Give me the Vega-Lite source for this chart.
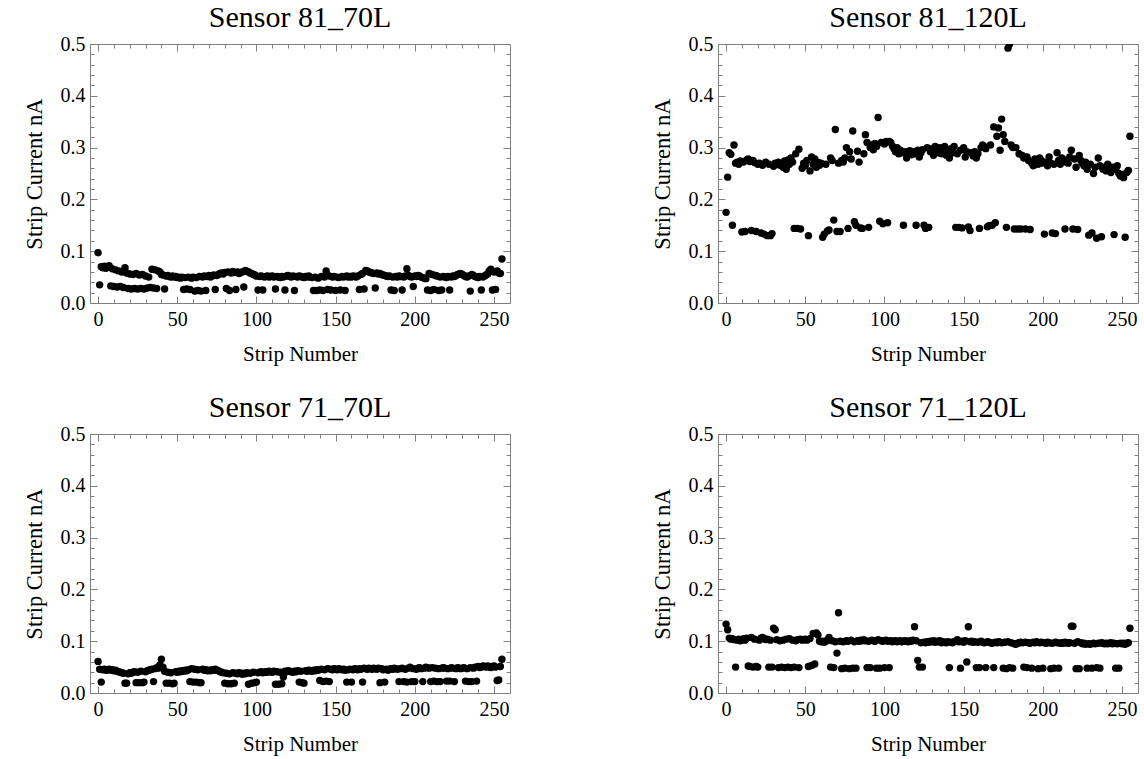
{
"$schema": "https://vega.github.io/schema/vega-lite/v6.json",
"background": "white",
"padding": {"left": 22, "top": 2, "right": 5, "bottom": 5},
"config": {
  "font": "Liberation Serif",
  "view": {"stroke": "#808080", "strokeWidth": 1},
  "axis": {"domain": false, "grid": false, "tickColor": "#808080", "tickWidth": 1, "labelFont": "Liberation Serif", "labelFontSize": 20, "labelColor": "black", "labelOverlap": false, "labelFlush": false, "titleFont": "Liberation Serif", "titleFontWeight": "normal", "titleColor": "black", "minExtent": 0, "labelBound": false},
  "axisX": {"titleFontSize": 21},
  "axisY": {"titleFontSize": 22.5},
  "title": {"font": "Liberation Serif", "fontSize": 30, "fontWeight": "normal", "color": "black", "frame": "group", "anchor": "middle", "offset": 1}
},
"columns": 2,
"spacing": {"row": 27, "column": 139},
"datasets": {
"a": [{"n":0,"v":0.097},{"n":1,"v":0.035},{"n":2,"v":0.070},{"n":3,"v":0.068},{"n":4,"v":0.071},{"n":5,"v":0.067},{"n":6,"v":0.069},{"n":7,"v":0.072},{"n":8,"v":0.033},{"n":9,"v":0.066},{"n":10,"v":0.032},{"n":11,"v":0.064},{"n":12,"v":0.031},{"n":13,"v":0.062},{"n":14,"v":0.032},{"n":15,"v":0.060},{"n":16,"v":0.030},{"n":17,"v":0.068},{"n":18,"v":0.058},{"n":19,"v":0.028},{"n":20,"v":0.056},{"n":21,"v":0.027},{"n":22,"v":0.055},{"n":23,"v":0.028},{"n":24,"v":0.057},{"n":25,"v":0.027},{"n":26,"v":0.054},{"n":27,"v":0.028},{"n":28,"v":0.055},{"n":29,"v":0.027},{"n":30,"v":0.052},{"n":31,"v":0.029},{"n":32,"v":0.050},{"n":33,"v":0.030},{"n":34,"v":0.065},{"n":35,"v":0.029},{"n":36,"v":0.064},{"n":37,"v":0.028},{"n":38,"v":0.062},{"n":39,"v":0.060},{"n":40,"v":0.055},{"n":41,"v":0.054},{"n":42,"v":0.027},{"n":43,"v":0.052},{"n":44,"v":0.053},{"n":45,"v":0.051},{"n":46,"v":0.050},{"n":47,"v":0.052},{"n":48,"v":0.050},{"n":49,"v":0.051},{"n":50,"v":0.049},{"n":51,"v":0.050},{"n":52,"v":0.048},{"n":53,"v":0.050},{"n":54,"v":0.026},{"n":55,"v":0.049},{"n":56,"v":0.027},{"n":57,"v":0.050},{"n":58,"v":0.026},{"n":59,"v":0.048},{"n":60,"v":0.050},{"n":61,"v":0.023},{"n":62,"v":0.049},{"n":63,"v":0.024},{"n":64,"v":0.051},{"n":65,"v":0.023},{"n":66,"v":0.050},{"n":67,"v":0.052},{"n":68,"v":0.024},{"n":69,"v":0.051},{"n":70,"v":0.053},{"n":71,"v":0.050},{"n":72,"v":0.052},{"n":73,"v":0.054},{"n":74,"v":0.026},{"n":75,"v":0.053},{"n":76,"v":0.055},{"n":77,"v":0.057},{"n":78,"v":0.058},{"n":79,"v":0.056},{"n":80,"v":0.059},{"n":81,"v":0.028},{"n":82,"v":0.060},{"n":83,"v":0.024},{"n":84,"v":0.058},{"n":85,"v":0.061},{"n":86,"v":0.059},{"n":87,"v":0.026},{"n":88,"v":0.060},{"n":89,"v":0.057},{"n":90,"v":0.059},{"n":91,"v":0.060},{"n":92,"v":0.031},{"n":93,"v":0.063},{"n":94,"v":0.061},{"n":95,"v":0.060},{"n":96,"v":0.058},{"n":97,"v":0.057},{"n":98,"v":0.055},{"n":99,"v":0.054},{"n":100,"v":0.052},{"n":101,"v":0.025},{"n":102,"v":0.051},{"n":103,"v":0.052},{"n":104,"v":0.025},{"n":105,"v":0.050},{"n":106,"v":0.051},{"n":107,"v":0.052},{"n":108,"v":0.050},{"n":109,"v":0.051},{"n":110,"v":0.052},{"n":111,"v":0.050},{"n":112,"v":0.027},{"n":113,"v":0.051},{"n":114,"v":0.050},{"n":115,"v":0.049},{"n":116,"v":0.051},{"n":117,"v":0.050},{"n":118,"v":0.025},{"n":119,"v":0.052},{"n":120,"v":0.053},{"n":121,"v":0.051},{"n":122,"v":0.050},{"n":123,"v":0.052},{"n":124,"v":0.024},{"n":125,"v":0.051},{"n":126,"v":0.050},{"n":127,"v":0.052},{"n":128,"v":0.051},{"n":129,"v":0.050},{"n":130,"v":0.049},{"n":131,"v":0.051},{"n":132,"v":0.050},{"n":133,"v":0.052},{"n":134,"v":0.050},{"n":135,"v":0.049},{"n":136,"v":0.024},{"n":137,"v":0.050},{"n":138,"v":0.024},{"n":139,"v":0.048},{"n":140,"v":0.025},{"n":141,"v":0.051},{"n":142,"v":0.024},{"n":143,"v":0.050},{"n":144,"v":0.062},{"n":145,"v":0.026},{"n":146,"v":0.052},{"n":147,"v":0.025},{"n":148,"v":0.050},{"n":149,"v":0.051},{"n":150,"v":0.024},{"n":151,"v":0.050},{"n":152,"v":0.049},{"n":153,"v":0.025},{"n":154,"v":0.051},{"n":155,"v":0.050},{"n":156,"v":0.024},{"n":157,"v":0.052},{"n":158,"v":0.050},{"n":159,"v":0.051},{"n":160,"v":0.050},{"n":161,"v":0.052},{"n":162,"v":0.051},{"n":163,"v":0.050},{"n":164,"v":0.052},{"n":165,"v":0.026},{"n":166,"v":0.055},{"n":167,"v":0.057},{"n":168,"v":0.027},{"n":169,"v":0.063},{"n":170,"v":0.062},{"n":171,"v":0.060},{"n":172,"v":0.059},{"n":173,"v":0.058},{"n":174,"v":0.057},{"n":175,"v":0.029},{"n":176,"v":0.058},{"n":177,"v":0.056},{"n":178,"v":0.057},{"n":179,"v":0.055},{"n":180,"v":0.054},{"n":181,"v":0.053},{"n":182,"v":0.052},{"n":183,"v":0.051},{"n":184,"v":0.052},{"n":185,"v":0.025},{"n":186,"v":0.050},{"n":187,"v":0.024},{"n":188,"v":0.051},{"n":189,"v":0.050},{"n":190,"v":0.052},{"n":191,"v":0.051},{"n":192,"v":0.025},{"n":193,"v":0.050},{"n":194,"v":0.052},{"n":195,"v":0.066},{"n":196,"v":0.053},{"n":197,"v":0.051},{"n":198,"v":0.050},{"n":199,"v":0.032},{"n":200,"v":0.052},{"n":201,"v":0.051},{"n":202,"v":0.053},{"n":203,"v":0.052},{"n":204,"v":0.050},{"n":205,"v":0.049},{"n":206,"v":0.048},{"n":207,"v":0.047},{"n":208,"v":0.025},{"n":209,"v":0.057},{"n":210,"v":0.024},{"n":211,"v":0.055},{"n":212,"v":0.026},{"n":213,"v":0.053},{"n":214,"v":0.052},{"n":215,"v":0.024},{"n":216,"v":0.050},{"n":217,"v":0.025},{"n":218,"v":0.051},{"n":219,"v":0.050},{"n":220,"v":0.049},{"n":221,"v":0.051},{"n":222,"v":0.025},{"n":223,"v":0.050},{"n":224,"v":0.052},{"n":225,"v":0.051},{"n":226,"v":0.053},{"n":227,"v":0.055},{"n":228,"v":0.056},{"n":229,"v":0.057},{"n":230,"v":0.055},{"n":231,"v":0.053},{"n":232,"v":0.051},{"n":233,"v":0.050},{"n":234,"v":0.052},{"n":235,"v":0.023},{"n":236,"v":0.055},{"n":237,"v":0.053},{"n":238,"v":0.051},{"n":239,"v":0.050},{"n":240,"v":0.049},{"n":241,"v":0.051},{"n":242,"v":0.025},{"n":243,"v":0.050},{"n":244,"v":0.052},{"n":245,"v":0.054},{"n":246,"v":0.056},{"n":247,"v":0.062},{"n":248,"v":0.065},{"n":249,"v":0.025},{"n":250,"v":0.060},{"n":251,"v":0.026},{"n":252,"v":0.062},{"n":253,"v":0.058},{"n":254,"v":0.057},{"n":255,"v":0.085}],
"b": [{"n":0,"v":0.175},{"n":1,"v":0.243},{"n":2,"v":0.290},{"n":3,"v":0.287},{"n":4,"v":0.150},{"n":5,"v":0.305},{"n":6,"v":0.270},{"n":7,"v":0.272},{"n":8,"v":0.268},{"n":9,"v":0.274},{"n":10,"v":0.137},{"n":11,"v":0.272},{"n":12,"v":0.138},{"n":13,"v":0.276},{"n":14,"v":0.278},{"n":15,"v":0.273},{"n":16,"v":0.140},{"n":17,"v":0.275},{"n":18,"v":0.271},{"n":19,"v":0.138},{"n":20,"v":0.268},{"n":21,"v":0.270},{"n":22,"v":0.135},{"n":23,"v":0.266},{"n":24,"v":0.133},{"n":25,"v":0.272},{"n":26,"v":0.130},{"n":27,"v":0.268},{"n":28,"v":0.130},{"n":29,"v":0.134},{"n":30,"v":0.264},{"n":31,"v":0.270},{"n":32,"v":0.268},{"n":33,"v":0.272},{"n":34,"v":0.266},{"n":35,"v":0.270},{"n":36,"v":0.262},{"n":37,"v":0.274},{"n":38,"v":0.258},{"n":39,"v":0.276},{"n":40,"v":0.268},{"n":41,"v":0.280},{"n":42,"v":0.272},{"n":43,"v":0.144},{"n":44,"v":0.288},{"n":45,"v":0.144},{"n":46,"v":0.297},{"n":47,"v":0.143},{"n":48,"v":0.260},{"n":49,"v":0.270},{"n":50,"v":0.265},{"n":51,"v":0.275},{"n":52,"v":0.130},{"n":53,"v":0.255},{"n":54,"v":0.282},{"n":55,"v":0.268},{"n":56,"v":0.278},{"n":57,"v":0.262},{"n":58,"v":0.272},{"n":59,"v":0.266},{"n":60,"v":0.270},{"n":61,"v":0.127},{"n":62,"v":0.133},{"n":63,"v":0.268},{"n":64,"v":0.139},{"n":65,"v":0.141},{"n":66,"v":0.280},{"n":67,"v":0.275},{"n":68,"v":0.160},{"n":69,"v":0.335},{"n":70,"v":0.138},{"n":71,"v":0.270},{"n":72,"v":0.138},{"n":73,"v":0.275},{"n":74,"v":0.272},{"n":75,"v":0.280},{"n":76,"v":0.300},{"n":77,"v":0.144},{"n":78,"v":0.292},{"n":79,"v":0.278},{"n":80,"v":0.332},{"n":81,"v":0.157},{"n":82,"v":0.150},{"n":83,"v":0.293},{"n":84,"v":0.272},{"n":85,"v":0.145},{"n":86,"v":0.144},{"n":87,"v":0.288},{"n":88,"v":0.325},{"n":89,"v":0.310},{"n":90,"v":0.146},{"n":91,"v":0.300},{"n":92,"v":0.305},{"n":93,"v":0.296},{"n":94,"v":0.308},{"n":95,"v":0.302},{"n":96,"v":0.358},{"n":97,"v":0.158},{"n":98,"v":0.310},{"n":99,"v":0.153},{"n":100,"v":0.307},{"n":101,"v":0.312},{"n":102,"v":0.155},{"n":103,"v":0.312},{"n":104,"v":0.310},{"n":105,"v":0.303},{"n":106,"v":0.298},{"n":107,"v":0.292},{"n":108,"v":0.300},{"n":109,"v":0.288},{"n":110,"v":0.295},{"n":111,"v":0.290},{"n":112,"v":0.150},{"n":113,"v":0.292},{"n":114,"v":0.280},{"n":115,"v":0.290},{"n":116,"v":0.294},{"n":117,"v":0.286},{"n":118,"v":0.292},{"n":119,"v":0.288},{"n":120,"v":0.150},{"n":121,"v":0.295},{"n":122,"v":0.282},{"n":123,"v":0.290},{"n":124,"v":0.296},{"n":125,"v":0.150},{"n":126,"v":0.144},{"n":127,"v":0.300},{"n":128,"v":0.146},{"n":129,"v":0.292},{"n":130,"v":0.298},{"n":131,"v":0.285},{"n":132,"v":0.302},{"n":133,"v":0.296},{"n":134,"v":0.290},{"n":135,"v":0.300},{"n":136,"v":0.288},{"n":137,"v":0.295},{"n":138,"v":0.302},{"n":139,"v":0.285},{"n":140,"v":0.292},{"n":141,"v":0.280},{"n":142,"v":0.298},{"n":143,"v":0.290},{"n":144,"v":0.302},{"n":145,"v":0.146},{"n":146,"v":0.288},{"n":147,"v":0.146},{"n":148,"v":0.295},{"n":149,"v":0.145},{"n":150,"v":0.300},{"n":151,"v":0.282},{"n":152,"v":0.292},{"n":153,"v":0.147},{"n":154,"v":0.140},{"n":155,"v":0.290},{"n":156,"v":0.284},{"n":157,"v":0.292},{"n":158,"v":0.280},{"n":159,"v":0.288},{"n":160,"v":0.144},{"n":161,"v":0.300},{"n":162,"v":0.305},{"n":163,"v":0.302},{"n":164,"v":0.298},{"n":165,"v":0.147},{"n":166,"v":0.149},{"n":167,"v":0.305},{"n":168,"v":0.150},{"n":169,"v":0.340},{"n":170,"v":0.155},{"n":171,"v":0.322},{"n":172,"v":0.338},{"n":173,"v":0.295},{"n":174,"v":0.355},{"n":175,"v":0.325},{"n":176,"v":0.312},{"n":177,"v":0.146},{"n":178,"v":0.492},{"n":179,"v":0.500},{"n":180,"v":0.305},{"n":181,"v":0.300},{"n":182,"v":0.143},{"n":183,"v":0.300},{"n":184,"v":0.143},{"n":185,"v":0.288},{"n":186,"v":0.143},{"n":187,"v":0.285},{"n":188,"v":0.280},{"n":189,"v":0.143},{"n":190,"v":0.282},{"n":191,"v":0.275},{"n":192,"v":0.142},{"n":193,"v":0.270},{"n":194,"v":0.265},{"n":195,"v":0.278},{"n":196,"v":0.272},{"n":197,"v":0.268},{"n":198,"v":0.280},{"n":199,"v":0.275},{"n":200,"v":0.270},{"n":201,"v":0.133},{"n":202,"v":0.272},{"n":203,"v":0.265},{"n":204,"v":0.282},{"n":205,"v":0.270},{"n":206,"v":0.135},{"n":207,"v":0.268},{"n":208,"v":0.134},{"n":209,"v":0.290},{"n":210,"v":0.275},{"n":211,"v":0.268},{"n":212,"v":0.280},{"n":213,"v":0.272},{"n":214,"v":0.143},{"n":215,"v":0.276},{"n":216,"v":0.270},{"n":217,"v":0.282},{"n":218,"v":0.295},{"n":219,"v":0.143},{"n":220,"v":0.278},{"n":221,"v":0.262},{"n":222,"v":0.142},{"n":223,"v":0.285},{"n":224,"v":0.275},{"n":225,"v":0.270},{"n":226,"v":0.265},{"n":227,"v":0.272},{"n":228,"v":0.258},{"n":229,"v":0.131},{"n":230,"v":0.268},{"n":231,"v":0.135},{"n":232,"v":0.250},{"n":233,"v":0.262},{"n":234,"v":0.125},{"n":235,"v":0.280},{"n":236,"v":0.265},{"n":237,"v":0.128},{"n":238,"v":0.258},{"n":239,"v":0.262},{"n":240,"v":0.255},{"n":241,"v":0.268},{"n":242,"v":0.260},{"n":243,"v":0.252},{"n":244,"v":0.262},{"n":245,"v":0.132},{"n":246,"v":0.258},{"n":247,"v":0.265},{"n":248,"v":0.250},{"n":249,"v":0.245},{"n":250,"v":0.248},{"n":251,"v":0.242},{"n":252,"v":0.127},{"n":253,"v":0.252},{"n":254,"v":0.256},{"n":255,"v":0.322}],
"c": [{"n":0,"v":0.061},{"n":1,"v":0.046},{"n":2,"v":0.021},{"n":3,"v":0.045},{"n":4,"v":0.046},{"n":5,"v":0.044},{"n":6,"v":0.045},{"n":7,"v":0.046},{"n":8,"v":0.044},{"n":9,"v":0.045},{"n":10,"v":0.043},{"n":11,"v":0.044},{"n":12,"v":0.042},{"n":13,"v":0.041},{"n":14,"v":0.040},{"n":15,"v":0.039},{"n":16,"v":0.038},{"n":17,"v":0.019},{"n":18,"v":0.019},{"n":19,"v":0.037},{"n":20,"v":0.039},{"n":21,"v":0.038},{"n":22,"v":0.040},{"n":23,"v":0.041},{"n":24,"v":0.020},{"n":25,"v":0.040},{"n":26,"v":0.020},{"n":27,"v":0.042},{"n":28,"v":0.020},{"n":29,"v":0.021},{"n":30,"v":0.041},{"n":31,"v":0.043},{"n":32,"v":0.044},{"n":33,"v":0.045},{"n":34,"v":0.046},{"n":35,"v":0.022},{"n":36,"v":0.047},{"n":37,"v":0.049},{"n":38,"v":0.048},{"n":39,"v":0.054},{"n":40,"v":0.065},{"n":41,"v":0.050},{"n":42,"v":0.042},{"n":43,"v":0.019},{"n":44,"v":0.040},{"n":45,"v":0.019},{"n":46,"v":0.039},{"n":47,"v":0.018},{"n":48,"v":0.019},{"n":49,"v":0.041},{"n":50,"v":0.040},{"n":51,"v":0.042},{"n":52,"v":0.041},{"n":53,"v":0.043},{"n":54,"v":0.042},{"n":55,"v":0.044},{"n":56,"v":0.043},{"n":57,"v":0.045},{"n":58,"v":0.022},{"n":59,"v":0.047},{"n":60,"v":0.021},{"n":61,"v":0.046},{"n":62,"v":0.021},{"n":63,"v":0.045},{"n":64,"v":0.020},{"n":65,"v":0.020},{"n":66,"v":0.046},{"n":67,"v":0.044},{"n":68,"v":0.045},{"n":69,"v":0.043},{"n":70,"v":0.044},{"n":71,"v":0.043},{"n":72,"v":0.045},{"n":73,"v":0.044},{"n":74,"v":0.046},{"n":75,"v":0.044},{"n":76,"v":0.043},{"n":77,"v":0.041},{"n":78,"v":0.040},{"n":79,"v":0.039},{"n":80,"v":0.019},{"n":81,"v":0.038},{"n":82,"v":0.018},{"n":83,"v":0.037},{"n":84,"v":0.018},{"n":85,"v":0.039},{"n":86,"v":0.019},{"n":87,"v":0.038},{"n":88,"v":0.037},{"n":89,"v":0.039},{"n":90,"v":0.038},{"n":91,"v":0.036},{"n":92,"v":0.038},{"n":93,"v":0.037},{"n":94,"v":0.039},{"n":95,"v":0.017},{"n":96,"v":0.038},{"n":97,"v":0.019},{"n":98,"v":0.040},{"n":99,"v":0.020},{"n":100,"v":0.021},{"n":101,"v":0.039},{"n":102,"v":0.040},{"n":103,"v":0.041},{"n":104,"v":0.039},{"n":105,"v":0.040},{"n":106,"v":0.041},{"n":107,"v":0.040},{"n":108,"v":0.042},{"n":109,"v":0.041},{"n":110,"v":0.040},{"n":111,"v":0.042},{"n":112,"v":0.017},{"n":113,"v":0.041},{"n":114,"v":0.017},{"n":115,"v":0.040},{"n":116,"v":0.018},{"n":117,"v":0.031},{"n":118,"v":0.042},{"n":119,"v":0.041},{"n":120,"v":0.043},{"n":121,"v":0.042},{"n":122,"v":0.041},{"n":123,"v":0.040},{"n":124,"v":0.042},{"n":125,"v":0.041},{"n":126,"v":0.043},{"n":127,"v":0.021},{"n":128,"v":0.042},{"n":129,"v":0.020},{"n":130,"v":0.019},{"n":131,"v":0.043},{"n":132,"v":0.042},{"n":133,"v":0.044},{"n":134,"v":0.043},{"n":135,"v":0.042},{"n":136,"v":0.044},{"n":137,"v":0.043},{"n":138,"v":0.045},{"n":139,"v":0.044},{"n":140,"v":0.024},{"n":141,"v":0.046},{"n":142,"v":0.022},{"n":143,"v":0.045},{"n":144,"v":0.023},{"n":145,"v":0.047},{"n":146,"v":0.022},{"n":147,"v":0.046},{"n":148,"v":0.045},{"n":149,"v":0.047},{"n":150,"v":0.046},{"n":151,"v":0.045},{"n":152,"v":0.047},{"n":153,"v":0.046},{"n":154,"v":0.045},{"n":155,"v":0.046},{"n":156,"v":0.044},{"n":157,"v":0.021},{"n":158,"v":0.045},{"n":159,"v":0.046},{"n":160,"v":0.021},{"n":161,"v":0.045},{"n":162,"v":0.047},{"n":163,"v":0.046},{"n":164,"v":0.045},{"n":165,"v":0.047},{"n":166,"v":0.046},{"n":167,"v":0.021},{"n":168,"v":0.048},{"n":169,"v":0.047},{"n":170,"v":0.046},{"n":171,"v":0.048},{"n":172,"v":0.047},{"n":173,"v":0.046},{"n":174,"v":0.048},{"n":175,"v":0.047},{"n":176,"v":0.046},{"n":177,"v":0.048},{"n":178,"v":0.020},{"n":179,"v":0.047},{"n":180,"v":0.045},{"n":181,"v":0.021},{"n":182,"v":0.046},{"n":183,"v":0.044},{"n":184,"v":0.046},{"n":185,"v":0.047},{"n":186,"v":0.046},{"n":187,"v":0.048},{"n":188,"v":0.047},{"n":189,"v":0.046},{"n":190,"v":0.022},{"n":191,"v":0.047},{"n":192,"v":0.048},{"n":193,"v":0.022},{"n":194,"v":0.046},{"n":195,"v":0.021},{"n":196,"v":0.048},{"n":197,"v":0.050},{"n":198,"v":0.022},{"n":199,"v":0.047},{"n":200,"v":0.022},{"n":201,"v":0.046},{"n":202,"v":0.048},{"n":203,"v":0.049},{"n":204,"v":0.047},{"n":205,"v":0.022},{"n":206,"v":0.048},{"n":207,"v":0.050},{"n":208,"v":0.049},{"n":209,"v":0.048},{"n":210,"v":0.022},{"n":211,"v":0.049},{"n":212,"v":0.023},{"n":213,"v":0.048},{"n":214,"v":0.022},{"n":215,"v":0.047},{"n":216,"v":0.022},{"n":217,"v":0.048},{"n":218,"v":0.049},{"n":219,"v":0.048},{"n":220,"v":0.023},{"n":221,"v":0.047},{"n":222,"v":0.023},{"n":223,"v":0.049},{"n":224,"v":0.048},{"n":225,"v":0.022},{"n":226,"v":0.047},{"n":227,"v":0.049},{"n":228,"v":0.048},{"n":229,"v":0.047},{"n":230,"v":0.048},{"n":231,"v":0.049},{"n":232,"v":0.023},{"n":233,"v":0.047},{"n":234,"v":0.022},{"n":235,"v":0.049},{"n":236,"v":0.022},{"n":237,"v":0.048},{"n":238,"v":0.050},{"n":239,"v":0.023},{"n":240,"v":0.051},{"n":241,"v":0.049},{"n":242,"v":0.050},{"n":243,"v":0.052},{"n":244,"v":0.051},{"n":245,"v":0.050},{"n":246,"v":0.052},{"n":247,"v":0.050},{"n":248,"v":0.049},{"n":249,"v":0.051},{"n":250,"v":0.052},{"n":251,"v":0.050},{"n":252,"v":0.024},{"n":253,"v":0.025},{"n":254,"v":0.051},{"n":255,"v":0.065}],
"d": [{"n":0,"v":0.133},{"n":1,"v":0.122},{"n":2,"v":0.106},{"n":3,"v":0.104},{"n":4,"v":0.105},{"n":5,"v":0.103},{"n":6,"v":0.050},{"n":7,"v":0.102},{"n":8,"v":0.104},{"n":9,"v":0.101},{"n":10,"v":0.103},{"n":11,"v":0.105},{"n":12,"v":0.102},{"n":13,"v":0.106},{"n":14,"v":0.052},{"n":15,"v":0.051},{"n":16,"v":0.107},{"n":17,"v":0.050},{"n":18,"v":0.104},{"n":19,"v":0.051},{"n":20,"v":0.050},{"n":21,"v":0.102},{"n":22,"v":0.106},{"n":23,"v":0.107},{"n":24,"v":0.105},{"n":25,"v":0.103},{"n":26,"v":0.104},{"n":27,"v":0.050},{"n":28,"v":0.102},{"n":29,"v":0.050},{"n":30,"v":0.125},{"n":31,"v":0.122},{"n":32,"v":0.103},{"n":33,"v":0.049},{"n":34,"v":0.101},{"n":35,"v":0.050},{"n":36,"v":0.102},{"n":37,"v":0.049},{"n":38,"v":0.104},{"n":39,"v":0.050},{"n":40,"v":0.105},{"n":41,"v":0.049},{"n":42,"v":0.102},{"n":43,"v":0.050},{"n":44,"v":0.101},{"n":45,"v":0.103},{"n":46,"v":0.049},{"n":47,"v":0.104},{"n":48,"v":0.102},{"n":49,"v":0.103},{"n":50,"v":0.104},{"n":51,"v":0.102},{"n":52,"v":0.051},{"n":53,"v":0.105},{"n":54,"v":0.053},{"n":55,"v":0.115},{"n":56,"v":0.056},{"n":57,"v":0.116},{"n":58,"v":0.112},{"n":59,"v":0.100},{"n":60,"v":0.099},{"n":61,"v":0.100},{"n":62,"v":0.098},{"n":63,"v":0.100},{"n":64,"v":0.102},{"n":65,"v":0.107},{"n":66,"v":0.050},{"n":67,"v":0.101},{"n":68,"v":0.049},{"n":69,"v":0.099},{"n":70,"v":0.077},{"n":71,"v":0.155},{"n":72,"v":0.100},{"n":73,"v":0.047},{"n":74,"v":0.099},{"n":75,"v":0.048},{"n":76,"v":0.101},{"n":77,"v":0.100},{"n":78,"v":0.047},{"n":79,"v":0.102},{"n":80,"v":0.048},{"n":81,"v":0.099},{"n":82,"v":0.048},{"n":83,"v":0.101},{"n":84,"v":0.100},{"n":85,"v":0.102},{"n":86,"v":0.101},{"n":87,"v":0.103},{"n":88,"v":0.101},{"n":89,"v":0.049},{"n":90,"v":0.100},{"n":91,"v":0.049},{"n":92,"v":0.102},{"n":93,"v":0.101},{"n":94,"v":0.100},{"n":95,"v":0.048},{"n":96,"v":0.103},{"n":97,"v":0.048},{"n":98,"v":0.101},{"n":99,"v":0.100},{"n":100,"v":0.049},{"n":101,"v":0.102},{"n":102,"v":0.100},{"n":103,"v":0.049},{"n":104,"v":0.101},{"n":105,"v":0.099},{"n":106,"v":0.100},{"n":107,"v":0.101},{"n":108,"v":0.099},{"n":109,"v":0.100},{"n":110,"v":0.101},{"n":111,"v":0.099},{"n":112,"v":0.100},{"n":113,"v":0.101},{"n":114,"v":0.100},{"n":115,"v":0.099},{"n":116,"v":0.101},{"n":117,"v":0.100},{"n":118,"v":0.102},{"n":119,"v":0.128},{"n":120,"v":0.101},{"n":121,"v":0.063},{"n":122,"v":0.050},{"n":123,"v":0.097},{"n":124,"v":0.050},{"n":125,"v":0.098},{"n":126,"v":0.097},{"n":127,"v":0.099},{"n":128,"v":0.098},{"n":129,"v":0.100},{"n":130,"v":0.099},{"n":131,"v":0.101},{"n":132,"v":0.098},{"n":133,"v":0.100},{"n":134,"v":0.099},{"n":135,"v":0.101},{"n":136,"v":0.097},{"n":137,"v":0.099},{"n":138,"v":0.098},{"n":139,"v":0.097},{"n":140,"v":0.099},{"n":141,"v":0.049},{"n":142,"v":0.098},{"n":143,"v":0.097},{"n":144,"v":0.099},{"n":145,"v":0.100},{"n":146,"v":0.103},{"n":147,"v":0.099},{"n":148,"v":0.048},{"n":149,"v":0.100},{"n":150,"v":0.098},{"n":151,"v":0.101},{"n":152,"v":0.060},{"n":153,"v":0.128},{"n":154,"v":0.099},{"n":155,"v":0.100},{"n":156,"v":0.098},{"n":157,"v":0.099},{"n":158,"v":0.049},{"n":159,"v":0.098},{"n":160,"v":0.049},{"n":161,"v":0.100},{"n":162,"v":0.098},{"n":163,"v":0.097},{"n":164,"v":0.049},{"n":165,"v":0.099},{"n":166,"v":0.098},{"n":167,"v":0.097},{"n":168,"v":0.096},{"n":169,"v":0.049},{"n":170,"v":0.098},{"n":171,"v":0.097},{"n":172,"v":0.099},{"n":173,"v":0.098},{"n":174,"v":0.097},{"n":175,"v":0.048},{"n":176,"v":0.098},{"n":177,"v":0.047},{"n":178,"v":0.099},{"n":179,"v":0.049},{"n":180,"v":0.097},{"n":181,"v":0.048},{"n":182,"v":0.095},{"n":183,"v":0.094},{"n":184,"v":0.096},{"n":185,"v":0.097},{"n":186,"v":0.098},{"n":187,"v":0.097},{"n":188,"v":0.050},{"n":189,"v":0.098},{"n":190,"v":0.049},{"n":191,"v":0.097},{"n":192,"v":0.096},{"n":193,"v":0.048},{"n":194,"v":0.098},{"n":195,"v":0.097},{"n":196,"v":0.099},{"n":197,"v":0.047},{"n":198,"v":0.097},{"n":199,"v":0.098},{"n":200,"v":0.048},{"n":201,"v":0.097},{"n":202,"v":0.096},{"n":203,"v":0.098},{"n":204,"v":0.097},{"n":205,"v":0.047},{"n":206,"v":0.096},{"n":207,"v":0.048},{"n":208,"v":0.098},{"n":209,"v":0.097},{"n":210,"v":0.048},{"n":211,"v":0.096},{"n":212,"v":0.097},{"n":213,"v":0.096},{"n":214,"v":0.098},{"n":215,"v":0.097},{"n":216,"v":0.096},{"n":217,"v":0.097},{"n":218,"v":0.129},{"n":219,"v":0.129},{"n":220,"v":0.096},{"n":221,"v":0.047},{"n":222,"v":0.099},{"n":223,"v":0.047},{"n":224,"v":0.097},{"n":225,"v":0.095},{"n":226,"v":0.096},{"n":227,"v":0.094},{"n":228,"v":0.048},{"n":229,"v":0.095},{"n":230,"v":0.094},{"n":231,"v":0.048},{"n":232,"v":0.096},{"n":233,"v":0.095},{"n":234,"v":0.049},{"n":235,"v":0.096},{"n":236,"v":0.048},{"n":237,"v":0.097},{"n":238,"v":0.096},{"n":239,"v":0.095},{"n":240,"v":0.096},{"n":241,"v":0.095},{"n":242,"v":0.096},{"n":243,"v":0.097},{"n":244,"v":0.095},{"n":245,"v":0.096},{"n":246,"v":0.048},{"n":247,"v":0.095},{"n":248,"v":0.048},{"n":249,"v":0.096},{"n":250,"v":0.095},{"n":251,"v":0.096},{"n":252,"v":0.094},{"n":253,"v":0.096},{"n":254,"v":0.097},{"n":255,"v":0.125}]
},
"concat": [
{"title": "Sensor 81_70L", "width": 420, "height": 259, "data": {"name": "a"},
 "layer": [
  {"mark": {"type": "point", "filled": true, "color": "black", "opacity": 1, "size": 55, "clip": true},
   "encoding": {
    "x": {"field": "n", "type": "quantitative", "title": "Strip Number", "scale": {"domain": [-5.1, 260.1], "nice": false, "zero": false},
      "axis": {"orient": "bottom", "values": [0,10,20,30,40,50,60,70,80,90,100,110,120,130,140,150,160,170,180,190,200,210,220,230,240,250], "tickSize": {"condition": {"test": "datum.value % 50 === 0", "value": -7}, "value": -4}, "labelExpr": "datum.value % 50 === 0 ? datum.label : ''", "labelPadding": 13, "titlePadding": 11}},
    "y": {"field": "v", "type": "quantitative", "title": "Strip Current nA", "scale": {"domain": [0, 0.5], "nice": false},
      "axis": {"orient": "left", "values": [0,0.02,0.04,0.06,0.08,0.1,0.12,0.14,0.16,0.18,0.2,0.22,0.24,0.26,0.28,0.3,0.32,0.34,0.36,0.38,0.4,0.42,0.44,0.46,0.48,0.5], "tickSize": {"condition": {"test": "abs(datum.value*10-round(datum.value*10))<0.001", "value": -7}, "value": -4}, "labelExpr": "abs(datum.value*10-round(datum.value*10))<0.001 ? format(datum.value,'.1f') : ''", "labelPadding": 12, "titlePadding": 14}}
   }},
  {"mark": {"type": "point", "opacity": 0},
   "encoding": {
    "x": {"field": "n", "type": "quantitative", "scale": {"domain": [-5.1, 260.1], "nice": false, "zero": false},
      "axis": {"orient": "top", "values": [0,10,20,30,40,50,60,70,80,90,100,110,120,130,140,150,160,170,180,190,200,210,220,230,240,250], "tickSize": {"condition": {"test": "datum.value % 50 === 0", "value": -7}, "value": -4}, "labels": false, "title": null}},
    "y": {"field": "v", "type": "quantitative", "scale": {"domain": [0, 0.5], "nice": false},
      "axis": {"orient": "right", "values": [0,0.02,0.04,0.06,0.08,0.1,0.12,0.14,0.16,0.18,0.2,0.22,0.24,0.26,0.28,0.3,0.32,0.34,0.36,0.38,0.4,0.42,0.44,0.46,0.48,0.5], "tickSize": {"condition": {"test": "abs(datum.value*10-round(datum.value*10))<0.001", "value": -7}, "value": -4}, "labels": false, "title": null}}
   }}
 ]},
{"title": "Sensor 81_120L", "width": 420, "height": 259, "data": {"name": "b"},
 "layer": [
  {"mark": {"type": "point", "filled": true, "color": "black", "opacity": 1, "size": 55, "clip": true},
   "encoding": {
    "x": {"field": "n", "type": "quantitative", "title": "Strip Number", "scale": {"domain": [-5.1, 260.1], "nice": false, "zero": false},
      "axis": {"orient": "bottom", "values": [0,10,20,30,40,50,60,70,80,90,100,110,120,130,140,150,160,170,180,190,200,210,220,230,240,250], "tickSize": {"condition": {"test": "datum.value % 50 === 0", "value": -7}, "value": -4}, "labelExpr": "datum.value % 50 === 0 ? datum.label : ''", "labelPadding": 13, "titlePadding": 11}},
    "y": {"field": "v", "type": "quantitative", "title": "Strip Current nA", "scale": {"domain": [0, 0.5], "nice": false},
      "axis": {"orient": "left", "values": [0,0.02,0.04,0.06,0.08,0.1,0.12,0.14,0.16,0.18,0.2,0.22,0.24,0.26,0.28,0.3,0.32,0.34,0.36,0.38,0.4,0.42,0.44,0.46,0.48,0.5], "tickSize": {"condition": {"test": "abs(datum.value*10-round(datum.value*10))<0.001", "value": -7}, "value": -4}, "labelExpr": "abs(datum.value*10-round(datum.value*10))<0.001 ? format(datum.value,'.1f') : ''", "labelPadding": 12, "titlePadding": 14}}
   }},
  {"mark": {"type": "point", "opacity": 0},
   "encoding": {
    "x": {"field": "n", "type": "quantitative", "scale": {"domain": [-5.1, 260.1], "nice": false, "zero": false},
      "axis": {"orient": "top", "values": [0,10,20,30,40,50,60,70,80,90,100,110,120,130,140,150,160,170,180,190,200,210,220,230,240,250], "tickSize": {"condition": {"test": "datum.value % 50 === 0", "value": -7}, "value": -4}, "labels": false, "title": null}},
    "y": {"field": "v", "type": "quantitative", "scale": {"domain": [0, 0.5], "nice": false},
      "axis": {"orient": "right", "values": [0,0.02,0.04,0.06,0.08,0.1,0.12,0.14,0.16,0.18,0.2,0.22,0.24,0.26,0.28,0.3,0.32,0.34,0.36,0.38,0.4,0.42,0.44,0.46,0.48,0.5], "tickSize": {"condition": {"test": "abs(datum.value*10-round(datum.value*10))<0.001", "value": -7}, "value": -4}, "labels": false, "title": null}}
   }}
 ]},
{"title": "Sensor 71_70L", "width": 420, "height": 259, "data": {"name": "c"},
 "layer": [
  {"mark": {"type": "point", "filled": true, "color": "black", "opacity": 1, "size": 55, "clip": true},
   "encoding": {
    "x": {"field": "n", "type": "quantitative", "title": "Strip Number", "scale": {"domain": [-5.1, 260.1], "nice": false, "zero": false},
      "axis": {"orient": "bottom", "values": [0,10,20,30,40,50,60,70,80,90,100,110,120,130,140,150,160,170,180,190,200,210,220,230,240,250], "tickSize": {"condition": {"test": "datum.value % 50 === 0", "value": -7}, "value": -4}, "labelExpr": "datum.value % 50 === 0 ? datum.label : ''", "labelPadding": 13, "titlePadding": 11}},
    "y": {"field": "v", "type": "quantitative", "title": "Strip Current nA", "scale": {"domain": [0, 0.5], "nice": false},
      "axis": {"orient": "left", "values": [0,0.02,0.04,0.06,0.08,0.1,0.12,0.14,0.16,0.18,0.2,0.22,0.24,0.26,0.28,0.3,0.32,0.34,0.36,0.38,0.4,0.42,0.44,0.46,0.48,0.5], "tickSize": {"condition": {"test": "abs(datum.value*10-round(datum.value*10))<0.001", "value": -7}, "value": -4}, "labelExpr": "abs(datum.value*10-round(datum.value*10))<0.001 ? format(datum.value,'.1f') : ''", "labelPadding": 12, "titlePadding": 14}}
   }},
  {"mark": {"type": "point", "opacity": 0},
   "encoding": {
    "x": {"field": "n", "type": "quantitative", "scale": {"domain": [-5.1, 260.1], "nice": false, "zero": false},
      "axis": {"orient": "top", "values": [0,10,20,30,40,50,60,70,80,90,100,110,120,130,140,150,160,170,180,190,200,210,220,230,240,250], "tickSize": {"condition": {"test": "datum.value % 50 === 0", "value": -7}, "value": -4}, "labels": false, "title": null}},
    "y": {"field": "v", "type": "quantitative", "scale": {"domain": [0, 0.5], "nice": false},
      "axis": {"orient": "right", "values": [0,0.02,0.04,0.06,0.08,0.1,0.12,0.14,0.16,0.18,0.2,0.22,0.24,0.26,0.28,0.3,0.32,0.34,0.36,0.38,0.4,0.42,0.44,0.46,0.48,0.5], "tickSize": {"condition": {"test": "abs(datum.value*10-round(datum.value*10))<0.001", "value": -7}, "value": -4}, "labels": false, "title": null}}
   }}
 ]},
{"title": "Sensor 71_120L", "width": 420, "height": 259, "data": {"name": "d"},
 "layer": [
  {"mark": {"type": "point", "filled": true, "color": "black", "opacity": 1, "size": 55, "clip": true},
   "encoding": {
    "x": {"field": "n", "type": "quantitative", "title": "Strip Number", "scale": {"domain": [-5.1, 260.1], "nice": false, "zero": false},
      "axis": {"orient": "bottom", "values": [0,10,20,30,40,50,60,70,80,90,100,110,120,130,140,150,160,170,180,190,200,210,220,230,240,250], "tickSize": {"condition": {"test": "datum.value % 50 === 0", "value": -7}, "value": -4}, "labelExpr": "datum.value % 50 === 0 ? datum.label : ''", "labelPadding": 13, "titlePadding": 11}},
    "y": {"field": "v", "type": "quantitative", "title": "Strip Current nA", "scale": {"domain": [0, 0.5], "nice": false},
      "axis": {"orient": "left", "values": [0,0.02,0.04,0.06,0.08,0.1,0.12,0.14,0.16,0.18,0.2,0.22,0.24,0.26,0.28,0.3,0.32,0.34,0.36,0.38,0.4,0.42,0.44,0.46,0.48,0.5], "tickSize": {"condition": {"test": "abs(datum.value*10-round(datum.value*10))<0.001", "value": -7}, "value": -4}, "labelExpr": "abs(datum.value*10-round(datum.value*10))<0.001 ? format(datum.value,'.1f') : ''", "labelPadding": 12, "titlePadding": 14}}
   }},
  {"mark": {"type": "point", "opacity": 0},
   "encoding": {
    "x": {"field": "n", "type": "quantitative", "scale": {"domain": [-5.1, 260.1], "nice": false, "zero": false},
      "axis": {"orient": "top", "values": [0,10,20,30,40,50,60,70,80,90,100,110,120,130,140,150,160,170,180,190,200,210,220,230,240,250], "tickSize": {"condition": {"test": "datum.value % 50 === 0", "value": -7}, "value": -4}, "labels": false, "title": null}},
    "y": {"field": "v", "type": "quantitative", "scale": {"domain": [0, 0.5], "nice": false},
      "axis": {"orient": "right", "values": [0,0.02,0.04,0.06,0.08,0.1,0.12,0.14,0.16,0.18,0.2,0.22,0.24,0.26,0.28,0.3,0.32,0.34,0.36,0.38,0.4,0.42,0.44,0.46,0.48,0.5], "tickSize": {"condition": {"test": "abs(datum.value*10-round(datum.value*10))<0.001", "value": -7}, "value": -4}, "labels": false, "title": null}}
   }}
 ]}
]
}
